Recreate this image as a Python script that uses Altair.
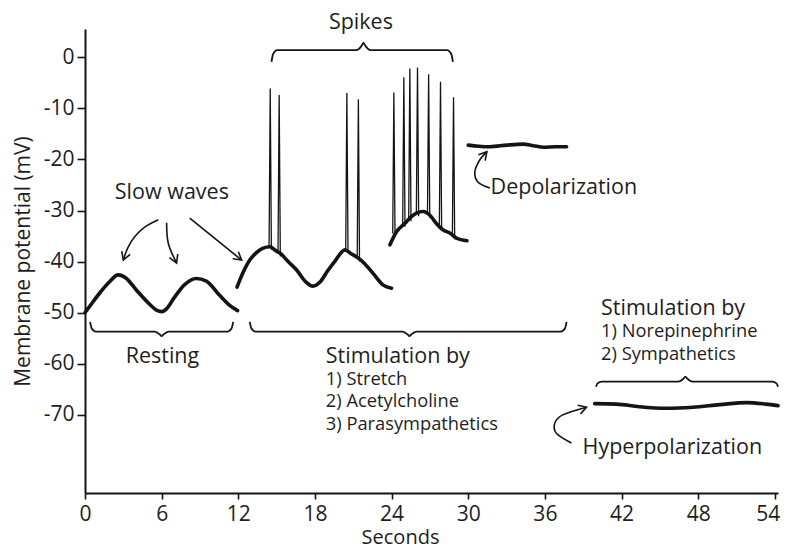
import math
import altair as alt
import pandas as pd

# ---------------- data ----------------
# Resting slow waves
rest_t = [0.0, 0.5, 1.2, 1.9, 2.6, 3.2, 4.0, 5.0, 5.6, 6.0, 6.4, 7.0, 7.8, 8.7, 9.5, 10.5, 11.3, 11.95]
rest_v = [-50.0, -48.3, -46.0, -44.0, -42.6, -43.2, -45.5, -48.2, -49.5, -49.8, -49.2, -47.0, -44.5, -43.3, -43.8, -46.5, -48.5, -49.6]
# Stimulated slow waves with spikes
stim_t = [11.9, 12.4, 12.9, 13.4, 13.9, 14.5, 14.9, 15.3, 15.9, 16.55, 17.3, 17.85, 18.4, 19.0, 19.6, 20.35, 20.8, 21.2, 21.6, 22.55, 23.35, 24.0]
stim_v = [-45.0, -42.0, -39.7, -38.3, -37.4, -37.1, -37.8, -38.4, -40.0, -41.6, -44.0, -44.8, -44.0, -41.8, -39.8, -37.7, -38.4, -39.0, -39.7, -42.3, -44.6, -45.2]
# Spike burst plateau
burst_t = [23.87, 24.4, 25.04, 25.55, 25.95, 26.47, 27.1, 27.4, 28.04, 28.56, 29.08, 29.9]
burst_v = [-36.7, -34.1, -32.5, -31.2, -30.5, -30.2, -31.2, -32.2, -33.8, -34.4, -35.4, -35.9]
# Depolarization
depol_t = [30.0, 30.8, 31.7, 33.0, 34.3, 35.1, 35.9, 36.8, 37.7]
depol_v = [-17.2, -17.4, -17.5, -17.2, -17.0, -17.3, -17.6, -17.5, -17.5]
# Hyperpolarization
hyper_t = [39.9, 41.6, 43.4, 45.5, 47.6, 49.7, 51.8, 53.3, 54.25]
hyper_v = [-67.8, -67.9, -68.4, -68.7, -68.5, -68.0, -67.6, -67.9, -68.2]

# Spikes: time, peak, base
spike_t = [14.5, 15.2, 20.5, 21.4, 24.18, 24.96, 25.43, 26.03, 26.9, 27.83, 28.85]
spike_peak = [-6.1, -7.4, -7.0, -8.2, -6.9, -3.9, -2.2, -2.0, -3.3, -4.8, -7.8]
spike_base = [-37.1, -38.4, -37.7, -39.4, -34.5, -32.6, -31.5, -30.5, -30.8, -33.3, -35.0]

# Braces: name, x0, x1, xc, line level, end level, tip level
brace_name = ["resting", "stim", "spikes", "norepi"]
brace_x0 = [0.4, 12.9, 14.6, 40.0]
brace_x1 = [11.6, 37.7, 28.8, 54.25]
brace_xc = [6.0, 25.4, 21.8, 47.0]
brace_line = [-53.7, -53.7, 1.4, -63.5]
brace_end = [-51.8, -51.8, -0.9, -64.5]
brace_tip = [-54.6, -54.6, 2.8, -62.5]

# Arrows (paths, last point is the tip)
arrow_paths = {
    "a1": [(5.74, -31.8), (4.7, -33.2), (3.9, -35.1), (3.35, -37.3), (3.0, -39.7)],
    "a2": [(6.39, -32.4), (6.52, -36.4), (7.17, -40.3)],
    "a3": [(8.2, -31.5), (12.26, -39.7)],
    "a4": [(31.69, -25.6), (30.75, -24.4), (30.52, -22.4), (30.9, -20.1), (31.46, -18.5)],
    "a5": [(38.08, -75.5), (36.9, -73.6), (36.78, -71.6), (37.4, -70.0), (39.26, -68.5)],
}

# Text annotations
ann_text = ["Spikes", "Slow waves", "Depolarization", "Resting", "Stimulation by",
            "Stimulation by", "Hyperpolarization"]
ann_x = [21.6, 6.8, 31.75, 6.06, 18.85, 40.4, 38.95]
ann_y = [6.8, -26.6, -25.6, -58.6, -58.6, -49.3, -76.5]
ann_align = ["center", "center", "left", "center", "left", "left", "left"]

sub_text = ["1) Stretch", "2) Acetylcholine", "3) Parasympathetics",
            "1) Norepinephrine", "2) Sympathetics"]
sub_x = [18.85, 18.85, 18.85, 40.4, 40.4]
sub_y = [-63.2, -67.5, -72.0, -53.8, -58.3]

x_ticks = [0, 6, 12, 18, 24, 30, 36, 42, 48, 54]
y_ticks = [0, -10, -20, -30, -40, -50, -60, -70]

# ---------------- layout constants ----------------
W, H = 693, 464
XDOM = [0, 54.25]
YDOM = [-85.3, 5.54]
SX = W / (XDOM[1] - XDOM[0])
SY = H / (YDOM[1] - YDOM[0])
INK = "#141414"
FONT = "Open Sans"

xs = alt.Scale(domain=XDOM, nice=False, zero=False)
ys = alt.Scale(domain=YDOM, nice=False, zero=False)

# ---------------- build tables ----------------
rows = []
for name, tt, vv in [("rest", rest_t, rest_v), ("stim", stim_t, stim_v),
                     ("burst", burst_t, burst_v), ("depol", depol_t, depol_v),
                     ("hyper", hyper_t, hyper_v)]:
    for i, (a, b) in enumerate(zip(tt, vv)):
        rows.append({"seg": name, "t": a, "v": b, "o": i})
trace_df = pd.DataFrame(rows)

srows = []
for k, (a, p, b) in enumerate(zip(spike_t, spike_peak, spike_base)):
    srows += [{"sid": k, "t": a - 0.09, "v": b, "o": 0},
              {"sid": k, "t": a, "v": p, "o": 1},
              {"sid": k, "t": a + 0.09, "v": b - 0.6, "o": 2}]
spike_df = pd.DataFrame(srows)

brows = []
for n, x0, x1, xc, yl, ye, yt in zip(brace_name, brace_x0, brace_x1, brace_xc,
                                     brace_line, brace_end, brace_tip):
    pts = [(x0, ye), (x0 + 0.12, yl + (ye - yl) * 0.35), (x0 + 0.45, yl),
           (xc - 0.55, yl), (xc - 0.15, yl + (yt - yl) * 0.6), (xc, yt),
           (xc + 0.15, yl + (yt - yl) * 0.6), (xc + 0.55, yl),
           (x1 - 0.45, yl), (x1 - 0.12, yl + (ye - yl) * 0.35), (x1, ye)]
    for i, (a, b) in enumerate(pts):
        brows.append({"bid": n, "t": a, "v": b, "o": i})
brace_df = pd.DataFrame(brows)

arows = []
hrows = []
L, ANG = 9.0, math.radians(30)
for n, pts in arrow_paths.items():
    for i, (a, b) in enumerate(pts):
        arows.append({"aid": n, "t": a, "v": b, "o": i})
    (px, py), (tx, ty) = pts[-2], pts[-1]
    dx, dy = (tx - px) * SX, -(ty - py) * SY
    th = math.atan2(dy, dx)
    w1 = (tx - L * math.cos(th + ANG) / SX, ty + L * math.sin(th + ANG) / SY)
    w2 = (tx - L * math.cos(th - ANG) / SX, ty + L * math.sin(th - ANG) / SY)
    for i, (a, b) in enumerate([w1, (tx, ty), w2]):
        hrows.append({"hid": n, "t": a, "v": b, "o": i})
arrow_df = pd.DataFrame(arows)
head_df = pd.DataFrame(hrows)

ann_df = pd.DataFrame({"label": ann_text, "t": ann_x, "v": ann_y, "al": ann_align})
sub_df = pd.DataFrame({"label": sub_text, "t": sub_x, "v": sub_y})

# ---------------- shared encodings ----------------
last_tick = "datum.value == %d" % x_ticks[-1]
x_axis = alt.Axis(values=x_ticks, title="Seconds", tickSize=6, labelPadding=4,
                  labelAlign={"condition": {"test": last_tick, "value": "right"}, "value": "center"},
                  labelOffset={"condition": {"test": last_tick, "value": 5}, "value": 0},
                  titleX=315, titleY=44, titleBaseline="middle", titleAnchor="start",
                  titleAlign="center", labelFlush=False, titleFontSize=20)
y_axis = alt.Axis(values=y_ticks, title="Membrane potential (mV)", tickSize=8, labelPadding=3,
                  labelExpr="datum.value < 0 ? '-' + format(-datum.value, 'd') : format(datum.value, 'd')",
                  titleX=-62, titleY=H / 2, titleAngle=270, titleAlign="center",
                  titleBaseline="middle", titleAnchor="start", titleFontSize=21)
X = alt.X("t:Q", scale=xs, axis=x_axis)
Y = alt.Y("v:Q", scale=ys, axis=y_axis)

# ---------------- layers ----------------
trace = alt.Chart(trace_df).mark_line(color=INK, strokeWidth=3.6, interpolate="monotone",
                                      strokeCap="round").encode(
    x=X, y=Y, detail="seg:N", order="o:Q")

spikes = alt.Chart(spike_df).mark_line(color=INK, strokeWidth=1.3).encode(
    x=X, y=Y, detail="sid:N", order="o:Q")

braces = alt.Chart(brace_df).mark_line(color=INK, strokeWidth=1.8, interpolate="monotone").encode(
    x=X, y=Y, detail="bid:N", order="o:Q")

arrows = alt.Chart(arrow_df).mark_line(color=INK, strokeWidth=1.6, interpolate="cardinal").encode(
    x=X, y=Y, detail="aid:N", order="o:Q")

heads = alt.Chart(head_df).mark_line(color=INK, strokeWidth=1.6).encode(
    x=X, y=Y, detail="hid:N", order="o:Q")

ann_c = alt.Chart(ann_df).transform_filter("datum.al == 'center'").mark_text(
    font=FONT, fontSize=21.5, color="#1e1e1e", align="center", baseline="middle").encode(
    x=X, y=Y, text="label:N")
ann_l = alt.Chart(ann_df).transform_filter("datum.al == 'left'").mark_text(
    font=FONT, fontSize=21.5, color="#1e1e1e", align="left", baseline="middle").encode(
    x=X, y=Y, text="label:N")
subs = alt.Chart(sub_df).mark_text(
    font=FONT, fontSize=18.3, color="#1e1e1e", align="left", baseline="middle").encode(
    x=X, y=Y, text="label:N")

chart = alt.layer(trace, spikes, braces, arrows, heads, ann_c, ann_l, subs).properties(
    width=W, height=H,
    autosize=alt.AutoSizeParams(type="none"),
    padding={"left": 77, "top": 21, "right": 2, "bottom": 52},
).configure_view(stroke=None).configure_axis(
    grid=False, domainColor=INK, domainWidth=2, tickColor=INK, tickWidth=1.6,
    labelFont=FONT, labelFontSize=21, labelColor="#1e1e1e",
    titleFont=FONT, titleColor="#1e1e1e", titleFontWeight="normal",
)

chart.save("out.html", embed_options={"renderer": "svg", "actions": False})
